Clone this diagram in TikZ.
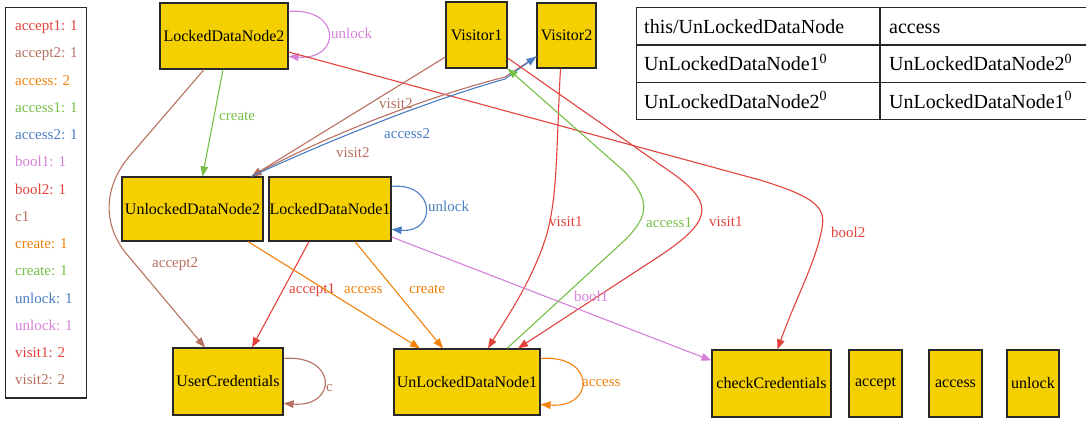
\documentclass[tikz,border=0pt]{standalone}
\usepackage{fontspec}
\setmainfont{Liberation Serif}
\usetikzlibrary{arrows.meta,calc}

\definecolor{cred}{RGB}{226,66,60}
\definecolor{cbrown}{RGB}{183,112,96}
\definecolor{corange}{RGB}{242,128,10}
\definecolor{cgreen}{RGB}{118,190,70}
\definecolor{cblue}{RGB}{74,125,195}
\definecolor{cpink}{RGB}{214,128,218}
\definecolor{nodefill}{RGB}{245,208,0}
\definecolor{nodeline}{RGB}{40,40,40}

\begin{document}
\begin{tikzpicture}[x=1pt,y=-1pt,
  box/.style={draw=nodeline,fill=nodefill,line width=1.2pt,inner sep=0pt,
    rectangle,font=\fontsize{16}{18}\selectfont},
  conn/.style={line width=1.1pt,-{Triangle[length=10pt,width=7.5pt]}},
  lbl/.style={inner sep=0pt,anchor=base west,font=\fontsize{15}{17}\selectfont},
  cell/.style={inner sep=0pt,anchor=base west,font=\fontsize{20}{22}\selectfont},
  frame/.style={draw=nodeline,line width=1.2pt}]

\useasboundingbox (0,0) rectangle (1086,422);

% ---- legend ----
\draw[frame] (5.5,7.5) rectangle (86.5,398);
\foreach \i/\t/\c in {0/accept1: 1/cred,1/accept2: 1/cbrown,2/access: 2/corange,
    3/access1: 1/cgreen,4/access2: 1/cblue,5/bool1: 1/cpink,6/bool2: 1/cred,
    7/c1/cbrown,8/create: 1/corange,9/create: 1/cgreen,10/unlock: 1/cblue,
    11/unlock: 1/cpink,12/visit1: 2/cred,13/visit2: 2/cbrown}
  \node[lbl,text=\c] (lg\i) at (15,30.7+27.25*\i) {\t};

% ---- table ----
\draw[frame] (1086,7.5) -| (636.5,119.5) -- (1086,119.5);
\draw[frame] (636.5,45) -- (1086,45);
\draw[frame] (636.5,82.5) -- (1086,82.5);
\draw[frame] (880,7.5) -- (880,119.5);
\node[cell] (t11) at (644,33.5) {this/UnLockedDataNode};
\node[cell] (t12) at (889,33.5) {access};
\node[cell] (t21) at (644,71) {UnLockedDataNode1\textsuperscript{0}};
\node[cell] (t22) at (889,71) {UnLockedDataNode2\textsuperscript{0}};
\node[cell] (t31) at (644,108.5) {UnLockedDataNode2\textsuperscript{0}};
\node[cell] (t32) at (889,108.5) {UnLockedDataNode1\textsuperscript{0}};

% ---- nodes ----
\node[box,minimum width=128,minimum height=66] (L2) at (224,36) {LockedDataNode2};
\node[box,minimum width=61,minimum height=66] (V1) at (476.5,35) {Visitor1};
\node[box,minimum width=59,minimum height=65] (V2) at (566.5,35.5) {Visitor2};
\node[box,minimum width=141,minimum height=64] (U2) at (192.5,209) {UnlockedDataNode2};
\node[box,minimum width=122,minimum height=64] (L1) at (330,209) {LockedDataNode1};
\node[box,minimum width=110,minimum height=67] (UC) at (228,381.5) {UserCredentials};
\node[box,minimum width=146,minimum height=66] (U1) at (467,382) {UnLockedDataNode1};
\node[box,minimum width=119,minimum height=67] (CC) at (771.5,383.5) {checkCredentials};
\node[box,minimum width=53,minimum height=67] (ACP) at (875.5,383.5) {accept};
\node[box,minimum width=53,minimum height=67] (ACS) at (955.5,383.5) {access};
\node[box,minimum width=52,minimum height=67] (UNL) at (1033,383.5) {unlock};

% ---- connectors ----
% LockedDataNode2
\draw[conn,cpink] ($(L2.north east)+(0,9)$) .. controls +(53,-4) and +(53,4) .. ($(L2.north east)+(0,54)$);
\node[lbl,text=cpink] (lu2) at (331,38.5) {unlock};

\draw[conn,cgreen] ($(L2.south)+(-1,0)$) -- ($(U2.north)+(10,0)$);
\node[lbl,text=cgreen] (lc2) at (219,120.5) {create};

\draw[conn,cbrown] ($(L2.south)+(-20,0)$) -- (128,158) .. controls (105,186) and (100,225) .. (130,258) -- ($(UC.north)+(-23,0)$);
\node[lbl,text=cbrown] (la2) at (152,267) {accept2};

\draw[conn,cred] ($(L2.east)+(0,16)$) -- (760,180) .. controls (815,197) and (826,207) .. (822,228) .. controls (816,262) and (795,300) .. ($(CC.north)+(6,0)$);
\node[lbl,text=cred] (lb2) at (831,237) {bool2};

% Visitors and UnlockedDataNode2
\draw[conn,cbrown] ($(V1.west)+(0,22)$) -- ($(U2.north)+(59,0)$);
\node[lbl,text=cbrown] (lv2a) at (379,108.5) {visit2};

\draw[conn,cbrown] ($(V2.west)+(0,21)$) -- (505,77) .. controls (430,96) and (330,134) .. ($(U2.north)+(59,0)$);
\draw[conn,cblue] ($(U2.north)+(59,0)$) .. controls (330,140) and (430,100) .. (505,79) -- ($(V2.west)+(0,21)$);
\node[lbl,text=cblue] (lac2) at (384,139) {access2};
\node[lbl,text=cbrown] (lv2b) at (336,157.5) {visit2};

% visits and accesses on UnLockedDataNode1
\draw[conn,cred] ($(V1.east)+(0,23)$) -- (675,175) .. controls (715,205) and (712,222) .. (655,259) -- ($(U1.north)+(51,0)$);
\node[lbl,text=cred] (lv1a) at (709,226) {visit1};

\draw[conn,cred] ($(V2.south)+(-6,0)$) .. controls (556,150) and (558,200) .. (545,240) .. controls (530,285) and (505,320) .. ($(U1.north)+(21,0)$);
\node[lbl,text=cred] (lv1b) at (549,226) {visit1};

\draw[conn,cgreen] ($(U1.north)+(40,0)$) -- (625,240) .. controls (650,215) and (650,200) .. (625,172) -- (V1.south east);
\node[lbl,text=cgreen] (lac1) at (646,227.5) {access1};

% LockedDataNode1
\draw[conn,cblue] ($(L1.north east)+(0,10)$) .. controls +(45,-4) and +(45,4) .. ($(L1.north east)+(0,53)$);
\node[lbl,text=cblue] (lu1) at (428,211.5) {unlock};

\draw[conn,cred] ($(L1.south)+(-21,0)$) -- ($(UC.north)+(24,0)$);
\node[lbl,text=cred] (la1) at (289,293) {accept1};

\draw[conn,corange] ($(U2.south)+(55.5,0)$) -- ($(U1.north)+(-47,0)$);
\node[lbl,text=corange] (lacc) at (344,293) {access};

\draw[conn,corange] ($(L1.south)+(25,0)$) -- ($(U1.north)+(-24,0)$);
\node[lbl,text=corange] (lcr) at (409,293) {create};

\draw[conn,cpink] ($(L1.east)+(0,28)$) -- ($(CC.west)+(0,-23)$);
\node[lbl,text=cpink] (lb1) at (574,301.5) {bool1};

% self loops on the bottom row
\draw[conn,cbrown] ($(UC.north east)+(0,11)$) .. controls +(54,-4) and +(54,4) .. ($(UC.north east)+(0,56)$);
\node[lbl,text=cbrown] (lcc) at (326,391) {c};

\draw[conn,corange] ($(U1.north east)+(0,10)$) .. controls +(55,-4) and +(55,4) .. ($(U1.north east)+(0,56)$);
\node[lbl,text=corange] (lacl) at (582,386.5) {access};

\end{tikzpicture}
\end{document}
